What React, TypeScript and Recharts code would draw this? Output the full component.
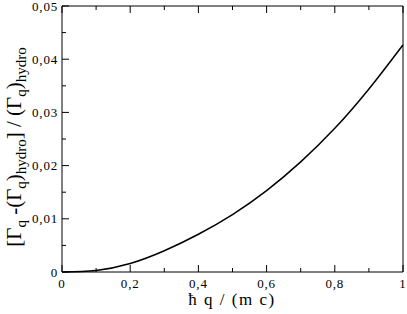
import React from "react";
import { LineChart, Line, XAxis, YAxis } from "recharts";

const qValues = [0, 0.1, 0.2, 0.3, 0.4, 0.5, 0.6, 0.7, 0.8, 0.9, 1.0];
const ratioValues = [0, 0.0003, 0.0016, 0.004, 0.0071, 0.0108, 0.0153, 0.0207, 0.027, 0.0344, 0.0427];
const xTicks = [0, 0.1, 0.2, 0.3, 0.4, 0.5, 0.6, 0.7, 0.8, 0.9, 1];
const yTicks = [0, 0.005, 0.01, 0.015, 0.02, 0.025, 0.03, 0.035, 0.04, 0.045, 0.05];

const data = qValues.map((q, i) => ({ q, r: ratioValues[i] }));

const FONT = "'Liberation Serif', 'Times New Roman', serif";
const MAJOR = 7;
const MINOR = 4;

const fmtX = (v: number) => (v === 0 ? "0" : v === 1 ? "1" : v.toFixed(1).replace(".", ","));
const fmtY = (v: number) => (v === 0 ? "0" : v.toFixed(2).replace(".", ","));

const isMajorX = (v: number) => Math.round(v * 10) % 2 === 0;
const isMajorY = (v: number) => Math.round(v * 1000) % 10 === 0;

const BottomTick = (props: any) => {
  const { x, y, payload } = props;
  const v = payload.value;
  const major = isMajorX(v);
  return (
    <g>
      <line x1={x} x2={x} y1={y} y2={y - (major ? MAJOR : MINOR)} stroke="#000" strokeWidth={1} />
      {major && (
        <text x={x} y={y + 15.5} textAnchor="middle" fontFamily={FONT} fontSize={13} letterSpacing={0.8} fill="#000">
          {fmtX(v)}
        </text>
      )}
    </g>
  );
};

const TopTick = (props: any) => {
  const { x, y, payload } = props;
  const major = isMajorX(payload.value);
  return <line x1={x} x2={x} y1={y} y2={y + (major ? MAJOR : MINOR)} stroke="#000" strokeWidth={1} />;
};

const LeftTick = (props: any) => {
  const { x, y, payload } = props;
  const v = payload.value;
  const major = isMajorY(v);
  return (
    <g>
      <line x1={x} x2={x + (major ? MAJOR : MINOR)} y1={y} y2={y} stroke="#000" strokeWidth={1} />
      {major && (
        <text x={x - 4} y={y + 4.5} textAnchor="end" fontFamily={FONT} fontSize={13} letterSpacing={0.8} fill="#000">
          {fmtY(v)}
        </text>
      )}
    </g>
  );
};

const RightTick = (props: any) => {
  const { x, y, payload } = props;
  const major = isMajorY(payload.value);
  return <line x1={x} x2={x - (major ? MAJOR : MINOR)} y1={y} y2={y} stroke="#000" strokeWidth={1} />;
};

export default function App() {
  return (
    <div style={{ position: "absolute", left: 0, top: 0, width: 407, height: 314, background: "#fff" }}>
      <LineChart width={407} height={314} data={data} margin={{ top: 0, right: 0, bottom: 0, left: 0 }}>
        <XAxis
          xAxisId="b"
          dataKey="q"
          type="number"
          domain={[0, 1]}
          ticks={xTicks}
          interval={0}
          height={42}
          tickSize={0}
          tickMargin={0}
          tickLine={false}
          axisLine={{ stroke: "#000", strokeWidth: 1 }}
          tick={<BottomTick />}
        />
        <XAxis
          xAxisId="t"
          orientation="top"
          dataKey="q"
          type="number"
          domain={[0, 1]}
          ticks={xTicks}
          interval={0}
          height={6}
          tickSize={0}
          tickMargin={0}
          tickLine={false}
          axisLine={{ stroke: "#000", strokeWidth: 1 }}
          tick={<TopTick />}
        />
        <YAxis
          yAxisId="l"
          type="number"
          domain={[0, 0.05]}
          ticks={yTicks}
          interval={0}
          width={62}
          tickSize={0}
          tickMargin={0}
          tickLine={false}
          axisLine={{ stroke: "#000", strokeWidth: 1 }}
          tick={<LeftTick />}
        />
        <YAxis
          yAxisId="r"
          orientation="right"
          type="number"
          domain={[0, 0.05]}
          ticks={yTicks}
          interval={0}
          width={4}
          tickSize={0}
          tickMargin={0}
          tickLine={false}
          axisLine={{ stroke: "#000", strokeWidth: 1 }}
          tick={<RightTick />}
        />
        <Line
          xAxisId="b"
          yAxisId="l"
          dataKey="r"
          type="natural"
          stroke="#000"
          strokeWidth={1.5}
          dot={false}
          isAnimationActive={false}
        />
        <text x={232} y={305} textAnchor="middle" fontFamily={FONT} fontSize={17} letterSpacing={1.5} fill="#000">
          ħ q / (m c)
        </text>
        <text transform="rotate(-90)" x={-147} y={21} textAnchor="middle" fontFamily={FONT} fontSize={21} fill="#000">
          <tspan>[Γ</tspan>
          <tspan fontSize={15} dy={5}>q</tspan>
          <tspan dy={-5}> -(Γ</tspan>
          <tspan fontSize={15} dy={5}>q</tspan>
          <tspan dy={-5}>)</tspan>
          <tspan fontSize={15} dy={5}>hydro</tspan>
          <tspan dy={-5}>] / (Γ</tspan>
          <tspan fontSize={15} dy={5}>q</tspan>
          <tspan dy={-5}>)</tspan>
          <tspan fontSize={15} dy={5}>hydro</tspan>
        </text>
      </LineChart>
    </div>
  );
}
